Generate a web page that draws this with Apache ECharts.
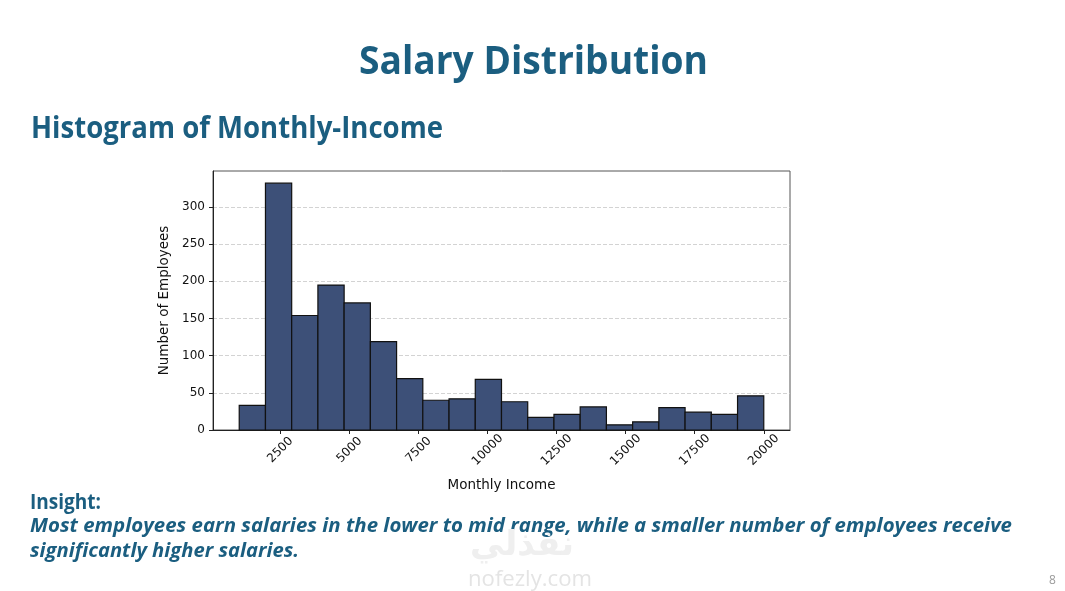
<!DOCTYPE html>
<html>
<head>
<meta charset="utf-8">
<script src="https://cdn.jsdelivr.net/npm/echarts@6/dist/echarts.min.js"></script>
<style>
  html, body { margin: 0; padding: 0; background: #fff; }
  #page { position: relative; width: 1065px; height: 591px; overflow: hidden; font-family: "Open Sans", "Noto Sans", sans-serif; }
  #chart { position: absolute; left: 0; top: 0; width: 1065px; height: 591px; }
  .t { position: absolute; white-space: nowrap; color: #1b5e80; font-weight: 700; transform-origin: 0 0; }
</style>
</head>
<body>
<div id="page">
  <div id="chart"></div>
  <div class="t fit" data-w="349" style="left:359px; top:39px; font-size:40px; line-height:40px;">Salary Distribution</div>
  <div class="t fit" data-w="412" style="left:31px; top:111px; font-size:31px; line-height:31px;">Histogram of Monthly-Income</div>
  <div class="t fit" data-w="71" style="left:30px; top:489px; font-size:22px; line-height:22px;">Insight:</div>
  <div class="t fit" data-w="982" style="left:30px; top:515px; font-size:20px; line-height:20px; font-style:italic;">Most employees earn salaries in the lower to mid range, while a smaller number of employees receive</div>
  <div class="t fit" data-w="269" style="left:30px; top:540px; font-size:20px; line-height:20px; font-style:italic;">significantly higher salaries.</div>
  <div class="t" style="left:470px; top:523px; font-size:34px; line-height:40px; color:#efefef; font-family:'DejaVu Sans', sans-serif;">نفذلي</div>
  <div class="t fit" data-w="124" style="left:468px; top:566px; font-size:22px; line-height:22px; color:#e4e4e4; font-weight:400;">nofezly.com</div>
  <div class="t" style="left:1049px; top:573px; font-size:12px; line-height:14px; color:#9a9a9a; font-weight:400;">8</div>
</div>
<script>
// bin edges and counts of the MonthlyIncome histogram (20 bins)
const binEdges = [1009, 1958.5, 2908, 3857.5, 4807, 5756.5, 6706, 7655.5, 8605, 9554.5, 10504,
                  11453.5, 12403, 13352.5, 14302, 15251.5, 16201, 17150.5, 18100, 19049.5, 19999];
const counts = [33, 332, 154, 195, 171, 119, 69, 40, 42, 68, 38, 17, 21, 31, 7, 11, 30, 24, 21, 46];
const xTicks = [2500, 5000, 7500, 10000, 12500, 15000, 17500, 20000];
const yTicks = [0, 50, 100, 150, 200, 250, 300];

// squeeze the slide texts to the widths measured on the picture
document.querySelectorAll('.fit').forEach(el => {
  const w = el.getBoundingClientRect().width;
  el.style.transform = 'scaleX(' + (el.dataset.w / w) + ')';
});

const bins = counts.map((c, i) => [binEdges[i], binEdges[i + 1], c]);

const chart = echarts.init(document.getElementById('chart'));
chart.setOption({
  animation: false,
  textStyle: { fontFamily: 'DejaVu Sans' },
  grid: { left: 213, top: 171, width: 577, height: 259, show: true, borderColor: '#555', borderWidth: 1 },
  xAxis: {
    type: 'value',
    min: 59.5,
    max: 20948.5,
    name: 'Monthly Income',
    nameLocation: 'middle',
    nameGap: 48,
    nameTextStyle: { color: '#111', fontSize: 13.5 },
    axisLine: { show: true, lineStyle: { color: '#222', width: 1 } },
    axisTick: { show: true, customValues: xTicks, length: 4, lineStyle: { color: '#222' } },
    axisLabel: {
      customValues: xTicks, rotate: 45, align: 'center', verticalAlign: 'middle',
      margin: 20, color: '#111', fontSize: 12, formatter: v => String(v)
    },
    splitLine: { show: false }
  },
  yAxis: {
    type: 'value',
    min: 0,
    max: 348.4,
    name: 'Number of Employees',
    nameLocation: 'middle',
    nameGap: 42,
    nameTextStyle: { color: '#111', fontSize: 13.5 },
    axisLine: { show: true, lineStyle: { color: '#222', width: 1 } },
    axisTick: { show: true, customValues: yTicks, length: 4, lineStyle: { color: '#222' } },
    axisLabel: { customValues: yTicks, margin: 8, color: '#111', fontSize: 12 },
    splitLine: { show: true, lineStyle: { color: '#c8c8c8', type: [4, 2], width: 0.8 } }
  },
  series: [{
    type: 'custom',
    data: bins,
    encode: { x: [0, 1], y: 2 },
    renderItem: (params, api) => {
      const p0 = api.coord([api.value(0), api.value(2)]);
      const p1 = api.coord([api.value(1), 0]);
      return {
        type: 'rect',
        shape: { x: p0[0], y: p0[1], width: p1[0] - p0[0], height: p1[1] - p0[1] },
        style: { fill: '#3d5078', stroke: '#111', lineWidth: 1.2 }
      };
    }
  }]
});
</script>
</body>
</html>
